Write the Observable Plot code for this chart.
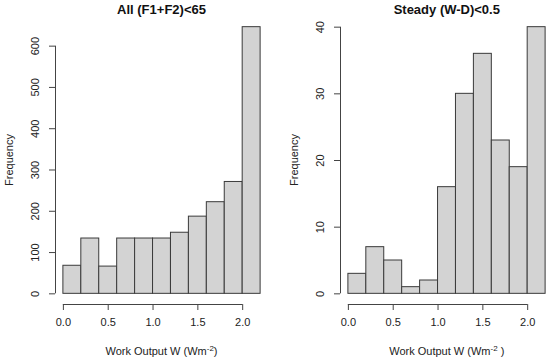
<!DOCTYPE html>
<html>
<head>
<meta charset="utf-8">
<script src="https://cdn.jsdelivr.net/npm/d3@7"></script>
<script src="https://cdn.jsdelivr.net/npm/@observablehq/plot@0.6"></script>
<style>
  body { margin: 0; background: #fff; }
  #wrap { position: relative; width: 550px; height: 361px; overflow: hidden; background: #fff;
          font-family: "Liberation Sans", Arial, sans-serif; color: #222; }
  .panel { position: absolute; top: 0; width: 285px; height: 361px; }
  .panel svg { position: absolute; left: 0; top: 0; }
  .title { position: absolute; left: 55px; width: 213px; top: 2px; line-height: 16px; text-align: center;
           font-weight: bold; font-size: 13px; color: #111; white-space: nowrap; }
  .xlab { position: absolute; left: 55px; width: 213px; top: 344px; line-height: 14px; text-align: center;
          font-size: 11px; white-space: nowrap; }
  .xlab sup { font-size: 8px; vertical-align: 4px; line-height: 0; }
  .ylab { position: absolute; left: 9px; top: 160px; transform: translate(-50%, -50%) rotate(-90deg);
          font-size: 11px; white-space: nowrap; }
</style>
</head>
<body>
<div id="wrap"></div>
<script>
// ---- data ----
const binEdges = [0, 0.2, 0.4, 0.6, 0.8, 1.0, 1.2, 1.4, 1.6, 1.8, 2.0, 2.2];
const countsAll = [68, 134, 66, 134, 134, 134, 148, 187, 222, 271, 646];
const countsSteady = [3, 7, 5, 1, 2, 16, 30, 36, 23, 19, 40];
const xTicks = [0, 0.5, 1.0, 1.5, 2.0];
const yTicksAll = [0, 100, 200, 300, 400, 500, 600];
const yTicksSteady = [0, 10, 20, 30, 40];
const titles = ["All (F1+F2)<65", "Steady (W-D)<0.5"];
const xLabels = ["Work Output W (Wm<sup>-2</sup>)", "Work Output W (Wm<sup>-2</sup> )"];
const yLabel = "Frequency";

// ---- chart ----
const wrap = document.getElementById("wrap");
const panelW = 285;

function makePanel(counts, yTicks, title, xLabel, offset) {
  const data = counts.map((c, i) => ({x1: binEdges[i], x2: binEdges[i + 1], count: c}));
  const xMin = binEdges[0], xMax = binEdges[binEdges.length - 1];
  const xPad = (xMax - xMin) * 0.04;
  const yMax = d3.max(counts);
  const yPad = yMax * 0.04;
  const xDomain = [xMin - xPad, xMax + xPad];
  const yDomain = [-yPad, yMax + yPad];

  const plot = Plot.plot({
    width: panelW,
    height: 361,
    marginLeft: 55,
    marginRight: 17,
    marginTop: 16,
    marginBottom: 57,
    style: {fontFamily: '"Liberation Sans", Arial, sans-serif', fontSize: "11px", color: "#333", background: "transparent"},
    x: {domain: xDomain, axis: null},
    y: {domain: yDomain, axis: null},
    marks: [
      Plot.rectY(data, {x1: "x1", x2: "x2", y: "count", fill: "#d3d3d3", stroke: "#3a3a3a", strokeWidth: 1}),
      // y axis
      Plot.ruleX([xDomain[0]], {y1: yTicks[0], y2: yTicks[yTicks.length - 1], stroke: "#444"}),
      Plot.axisY({ticks: yTicks, tickSize: 6, tickFormat: () => "", label: null, stroke: "#444"}),
      Plot.text(yTicks, {y: d => d, frameAnchor: "left", dx: -20, rotate: -90, textAnchor: "middle", fill: "#222", fontSize: 11}),
      // x axis
      Plot.ruleY([yDomain[0]], {x1: xTicks[0], x2: xTicks[xTicks.length - 1], stroke: "#444"}),
      Plot.axisX({ticks: xTicks, tickSize: 6, tickPadding: 8, tickFormat: d3.format(".1f"), label: null, stroke: "#444", fill: "#222"})
    ]
  });

  const panel = document.createElement("div");
  panel.className = "panel";
  panel.style.left = offset + "px";
  panel.appendChild(plot);

  const t = document.createElement("div");
  t.className = "title";
  t.textContent = title;
  panel.appendChild(t);

  const xl = document.createElement("div");
  xl.className = "xlab";
  xl.innerHTML = xLabel;
  panel.appendChild(xl);

  const yl = document.createElement("div");
  yl.className = "ylab";
  yl.textContent = yLabel;
  panel.appendChild(yl);

  wrap.appendChild(panel);
}

makePanel(countsAll, yTicksAll, titles[0], xLabels[0], 0);
makePanel(countsSteady, yTicksSteady, titles[1], xLabels[1], 285.3);
</script>
</body>
</html>
